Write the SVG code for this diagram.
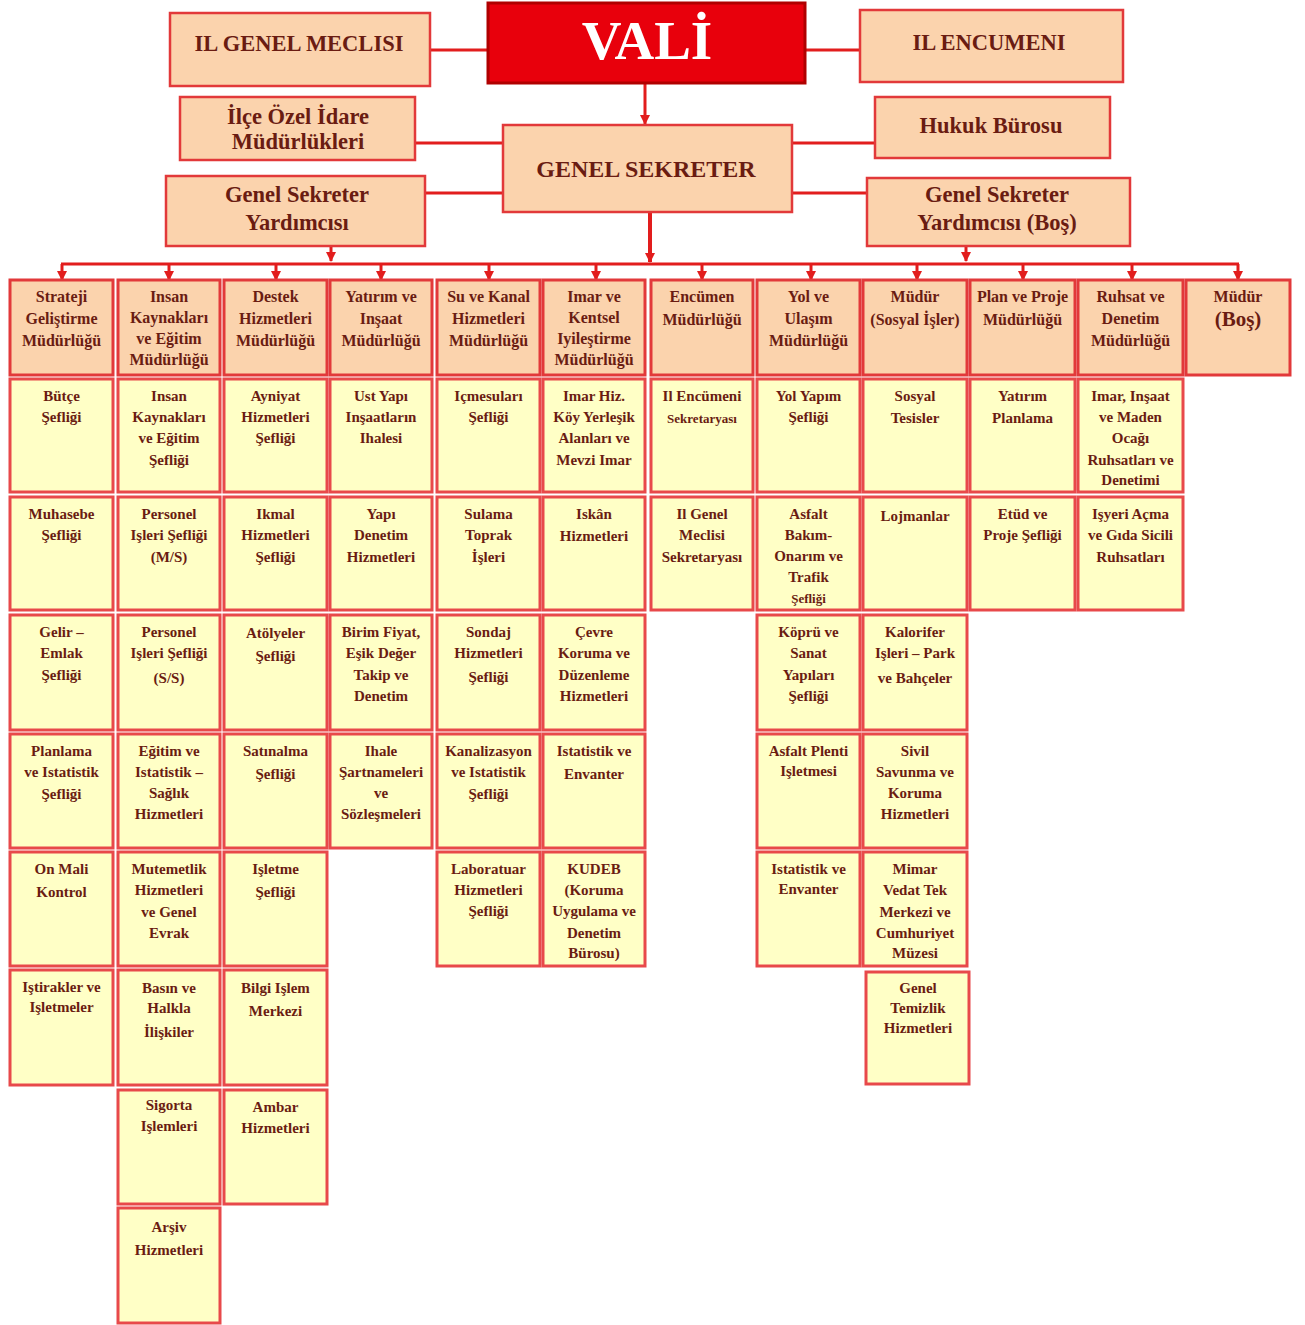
<svg xmlns="http://www.w3.org/2000/svg" width="1305" height="1325" viewBox="0 0 1305 1325">
<style>
text{font-family:"Liberation Serif","Times New Roman",serif;font-weight:bold;fill:#6a1c12;text-anchor:middle}
.top rect{fill:#fbd3ad;stroke:#e2393a;stroke-width:2.5}
.hd rect{fill:#fbd3ad;stroke:#e2393a;stroke-width:3}
.sb rect{fill:#ffffc6;stroke:#e8494a;stroke-width:3}
.hd text{font-size:16px}
.sb text{font-size:15px}
.big{font-size:22.5px}
.con line{stroke:#e21d1d;stroke-width:3;fill:none}
</style>
<defs>
<marker id="ar" markerWidth="10" markerHeight="10" refX="9" refY="5" orient="auto" markerUnits="userSpaceOnUse">
<path d="M0,0 L10,5 L0,10 z" fill="#e21d1d"/>
</marker>
</defs>
<rect width="1305" height="1325" fill="#ffffff"/>

<g class="con" id="connectors">
<line x1="430" y1="50" x2="488" y2="50"/>
<line x1="805" y1="50" x2="860" y2="50"/>
<line x1="645" y1="83" x2="645" y2="124" marker-end="url(#ar)"/>
<line x1="415" y1="143" x2="503" y2="143"/>
<line x1="792" y1="143" x2="875" y2="143"/>
<line x1="425" y1="193" x2="503" y2="193"/>
<line x1="792" y1="193" x2="867" y2="193"/>
<line x1="650" y1="212" x2="650" y2="262" style="stroke-width:4" marker-end="url(#ar)"/>
<line x1="331" y1="246" x2="331" y2="261" marker-end="url(#ar)"/>
<line x1="966" y1="246" x2="966" y2="261" marker-end="url(#ar)"/>
<line x1="61" y1="264" x2="1239" y2="264"/>
<line x1="62" y1="264" x2="62" y2="280" marker-end="url(#ar)"/>
<line x1="169" y1="264" x2="169" y2="280" marker-end="url(#ar)"/>
<line x1="276" y1="264" x2="276" y2="280" marker-end="url(#ar)"/>
<line x1="381" y1="264" x2="381" y2="280" marker-end="url(#ar)"/>
<line x1="489" y1="264" x2="489" y2="280" marker-end="url(#ar)"/>
<line x1="596" y1="264" x2="596" y2="280" marker-end="url(#ar)"/>
<line x1="702" y1="264" x2="702" y2="280" marker-end="url(#ar)"/>
<line x1="811" y1="264" x2="811" y2="280" marker-end="url(#ar)"/>
<line x1="917" y1="264" x2="917" y2="280" marker-end="url(#ar)"/>
<line x1="1023" y1="264" x2="1023" y2="280" marker-end="url(#ar)"/>
<line x1="1132" y1="264" x2="1132" y2="280" marker-end="url(#ar)"/>
<line x1="1238" y1="264" x2="1238" y2="280" marker-end="url(#ar)"/>
</g>

<!-- top -->
<g id="vali"><rect x="488" y="3" width="317" height="80" fill="#e8000c" stroke="#b00000" stroke-width="3"/><text x="647" y="59" style="font-size:55px;fill:#ffffff">VALİ</text></g>
<g class="top" id="il-genel-meclisi"><rect x="170" y="13" width="260" height="73"/><text class="big" x="299" y="51">IL GENEL MECLISI</text></g>
<g class="top" id="il-encumeni"><rect x="860" y="10" width="263" height="72"/><text class="big" x="989" y="50">IL ENCUMENI</text></g>
<g class="top" id="ilce"><rect x="180" y="97" width="235" height="63"/><text class="big" x="298" y="124">İlçe Özel İdare</text><text class="big" x="298" y="149">Müdürlükleri</text></g>
<g class="top" id="hukuk"><rect x="875" y="97" width="235" height="61"/><text class="big" x="991" y="133">Hukuk Bürosu</text></g>
<g class="top" id="genel-sekreter"><rect x="503" y="125" width="289" height="87"/><text x="646" y="177" style="font-size:24px">GENEL SEKRETER</text></g>
<g class="top" id="gsy"><rect x="166" y="176" width="259" height="70"/><text class="big" x="297" y="202">Genel Sekreter</text><text class="big" x="297" y="230">Yardımcısı</text></g>
<g class="top" id="gsy-bos"><rect x="867" y="178" width="263" height="68"/><text class="big" x="997" y="202">Genel Sekreter</text><text class="big" x="997" y="230">Yardımcısı (Boş)</text></g>

<!-- headers -->
<g class="hd" id="h1"><rect x="10" y="280" width="103" height="95"/><text x="61.5" y="302">Strateji</text><text x="61.5" y="324">Geliştirme</text><text x="61.5" y="346">Müdürlüğü</text></g>
<g class="hd" id="h2"><rect x="118" y="280" width="102" height="95"/><text x="169" y="302">Insan</text><text x="169" y="323">Kaynakları</text><text x="169" y="344">ve Eğitim</text><text x="169" y="365">Müdürlüğü</text></g>
<g class="hd" id="h3"><rect x="224" y="280" width="103" height="95"/><text x="275.5" y="302">Destek</text><text x="275.5" y="324">Hizmetleri</text><text x="275.5" y="346">Müdürlüğü</text></g>
<g class="hd" id="h4"><rect x="330" y="280" width="102" height="95"/><text x="381" y="302">Yatırım ve</text><text x="381" y="324">Inşaat</text><text x="381" y="346">Müdürlüğü</text></g>
<g class="hd" id="h5"><rect x="437" y="280" width="103" height="95"/><text x="488.5" y="302">Su ve Kanal</text><text x="488.5" y="324">Hizmetleri</text><text x="488.5" y="346">Müdürlüğü</text></g>
<g class="hd" id="h6"><rect x="543" y="280" width="102" height="95"/><text x="594" y="302">Imar ve</text><text x="594" y="323">Kentsel</text><text x="594" y="344">Iyileştirme</text><text x="594" y="365">Müdürlüğü</text></g>
<g class="hd" id="h7"><rect x="651" y="280" width="102" height="95"/><text x="702" y="302">Encümen</text><text x="702" y="325">Müdürlüğü</text></g>
<g class="hd" id="h8"><rect x="757" y="280" width="103" height="95"/><text x="808.5" y="302">Yol ve</text><text x="808.5" y="324">Ulaşım</text><text x="808.5" y="346">Müdürlüğü</text></g>
<g class="hd" id="h9"><rect x="863" y="280" width="104" height="95"/><text x="915" y="302">Müdür</text><text x="915" y="325">(Sosyal İşler)</text></g>
<g class="hd" id="h10"><rect x="970" y="280" width="105" height="95"/><text x="1022.5" y="302">Plan ve Proje</text><text x="1022.5" y="325">Müdürlüğü</text></g>
<g class="hd" id="h11"><rect x="1078" y="280" width="105" height="95"/><text x="1130.5" y="302">Ruhsat ve</text><text x="1130.5" y="324">Denetim</text><text x="1130.5" y="346">Müdürlüğü</text></g>
<g class="hd" id="h12"><rect x="1186" y="280" width="104" height="95"/><text x="1238" y="302">Müdür</text><text x="1238" y="326" style="font-size:21px">(Boş)</text></g>

<!-- column 1 -->
<g class="sb" id="c1r1"><rect x="10" y="379" width="103" height="113"/><text x="61.5" y="401">Bütçe</text><text x="61.5" y="422">Şefliği</text></g>
<g class="sb" id="c1r2"><rect x="10" y="497" width="103" height="113"/><text x="61.5" y="519">Muhasebe</text><text x="61.5" y="540">Şefliği</text></g>
<g class="sb" id="c1r3"><rect x="10" y="615" width="103" height="115"/><text x="61.5" y="637">Gelir –</text><text x="61.5" y="658">Emlak</text><text x="61.5" y="680">Şefliği</text></g>
<g class="sb" id="c1r4"><rect x="10" y="734" width="103" height="114"/><text x="61.5" y="756">Planlama</text><text x="61.5" y="777">ve Istatistik</text><text x="61.5" y="799">Şefliği</text></g>
<g class="sb" id="c1r5"><rect x="10" y="852" width="103" height="114"/><text x="61.5" y="874">On Mali</text><text x="61.5" y="897">Kontrol</text></g>
<g class="sb" id="c1r6"><rect x="10" y="970" width="103" height="115"/><text x="61.5" y="992">Iştirakler ve</text><text x="61.5" y="1012">Işletmeler</text></g>

<!-- column 2 -->
<g class="sb" id="c2r1"><rect x="118" y="379" width="102" height="113"/><text x="169" y="401">Insan</text><text x="169" y="422">Kaynakları</text><text x="169" y="443">ve Eğitim</text><text x="169" y="465">Şefliği</text></g>
<g class="sb" id="c2r2"><rect x="118" y="497" width="102" height="113"/><text x="169" y="519">Personel</text><text x="169" y="540">Işleri Şefliği</text><text x="169" y="562">(M/S)</text></g>
<g class="sb" id="c2r3"><rect x="118" y="615" width="102" height="115"/><text x="169" y="637">Personel</text><text x="169" y="658">Işleri Şefliği</text><text x="169" y="683">(S/S)</text></g>
<g class="sb" id="c2r4"><rect x="118" y="734" width="102" height="114"/><text x="169" y="756">Eğitim ve</text><text x="169" y="777">Istatistik –</text><text x="169" y="798">Sağlık</text><text x="169" y="819">Hizmetleri</text></g>
<g class="sb" id="c2r5"><rect x="118" y="852" width="102" height="114"/><text x="169" y="874">Mutemetlik</text><text x="169" y="895">Hizmetleri</text><text x="169" y="917">ve Genel</text><text x="169" y="938">Evrak</text></g>
<g class="sb" id="c2r6"><rect x="118" y="970" width="102" height="115"/><text x="169" y="993">Basın ve</text><text x="169" y="1013">Halkla</text><text x="169" y="1037">İlişkiler</text></g>
<g class="sb" id="c2r7"><rect x="118" y="1090" width="102" height="114"/><text x="169" y="1110">Sigorta</text><text x="169" y="1131">Işlemleri</text></g>
<g class="sb" id="c2r8"><rect x="118" y="1208" width="102" height="115"/><text x="169" y="1232">Arşiv</text><text x="169" y="1255">Hizmetleri</text></g>

<!-- column 3 -->
<g class="sb" id="c3r1"><rect x="224" y="379" width="103" height="113"/><text x="275.5" y="401">Ayniyat</text><text x="275.5" y="422">Hizmetleri</text><text x="275.5" y="443">Şefliği</text></g>
<g class="sb" id="c3r2"><rect x="224" y="497" width="103" height="113"/><text x="275.5" y="519">Ikmal</text><text x="275.5" y="540">Hizmetleri</text><text x="275.5" y="562">Şefliği</text></g>
<g class="sb" id="c3r3"><rect x="224" y="615" width="103" height="115"/><text x="275.5" y="638">Atölyeler</text><text x="275.5" y="661">Şefliği</text></g>
<g class="sb" id="c3r4"><rect x="224" y="734" width="103" height="114"/><text x="275.5" y="756">Satınalma</text><text x="275.5" y="779">Şefliği</text></g>
<g class="sb" id="c3r5"><rect x="224" y="852" width="103" height="114"/><text x="275.5" y="874">Işletme</text><text x="275.5" y="897">Şefliği</text></g>
<g class="sb" id="c3r6"><rect x="224" y="970" width="103" height="115"/><text x="275.5" y="993">Bilgi Işlem</text><text x="275.5" y="1016">Merkezi</text></g>
<g class="sb" id="c3r7"><rect x="224" y="1090" width="103" height="114"/><text x="275.5" y="1112">Ambar</text><text x="275.5" y="1133">Hizmetleri</text></g>

<!-- column 4 -->
<g class="sb" id="c4r1"><rect x="330" y="379" width="102" height="113"/><text x="381" y="401">Ust Yapı</text><text x="381" y="422">Inşaatların</text><text x="381" y="443">Ihalesi</text></g>
<g class="sb" id="c4r2"><rect x="330" y="497" width="102" height="113"/><text x="381" y="519">Yapı</text><text x="381" y="540">Denetim</text><text x="381" y="562">Hizmetleri</text></g>
<g class="sb" id="c4r3"><rect x="330" y="615" width="102" height="115"/><text x="381" y="637">Birim Fiyat,</text><text x="381" y="658">Eşik Değer</text><text x="381" y="680">Takip ve</text><text x="381" y="701">Denetim</text></g>
<g class="sb" id="c4r4"><rect x="330" y="734" width="102" height="114"/><text x="381" y="756">Ihale</text><text x="381" y="777">Şartnameleri</text><text x="381" y="798">ve</text><text x="381" y="819">Sözleşmeleri</text></g>

<!-- column 5 -->
<g class="sb" id="c5r1"><rect x="437" y="379" width="103" height="113"/><text x="488.5" y="401">Içmesuları</text><text x="488.5" y="422">Şefliği</text></g>
<g class="sb" id="c5r2"><rect x="437" y="497" width="103" height="113"/><text x="488.5" y="519">Sulama</text><text x="488.5" y="540">Toprak</text><text x="488.5" y="562">İşleri</text></g>
<g class="sb" id="c5r3"><rect x="437" y="615" width="103" height="115"/><text x="488.5" y="637">Sondaj</text><text x="488.5" y="658">Hizmetleri</text><text x="488.5" y="682">Şefliği</text></g>
<g class="sb" id="c5r4"><rect x="437" y="734" width="103" height="114"/><text x="488.5" y="756">Kanalizasyon</text><text x="488.5" y="777">ve Istatistik</text><text x="488.5" y="799">Şefliği</text></g>
<g class="sb" id="c5r5"><rect x="437" y="852" width="103" height="114"/><text x="488.5" y="874">Laboratuar</text><text x="488.5" y="895">Hizmetleri</text><text x="488.5" y="916">Şefliği</text></g>

<!-- column 6 -->
<g class="sb" id="c6r1"><rect x="543" y="379" width="102" height="113"/><text x="594" y="401">Imar Hiz.</text><text x="594" y="422">Köy Yerleşik</text><text x="594" y="443">Alanları ve</text><text x="594" y="465">Mevzi Imar</text></g>
<g class="sb" id="c6r2"><rect x="543" y="497" width="102" height="113"/><text x="594" y="519">Iskân</text><text x="594" y="541">Hizmetleri</text></g>
<g class="sb" id="c6r3"><rect x="543" y="615" width="102" height="115"/><text x="594" y="637">Çevre</text><text x="594" y="658">Koruma ve</text><text x="594" y="680">Düzenleme</text><text x="594" y="701">Hizmetleri</text></g>
<g class="sb" id="c6r4"><rect x="543" y="734" width="102" height="114"/><text x="594" y="756">Istatistik ve</text><text x="594" y="779">Envanter</text></g>
<g class="sb" id="c6r5"><rect x="543" y="852" width="102" height="114"/><text x="594" y="874">KUDEB</text><text x="594" y="895">(Koruma</text><text x="594" y="916">Uygulama ve</text><text x="594" y="938">Denetim</text><text x="594" y="958">Bürosu)</text></g>

<!-- column 7 -->
<g class="sb" id="c7r1"><rect x="651" y="379" width="102" height="113"/><text x="702" y="401">Il Encümeni</text><text x="702" y="423" style="font-size:13px">Sekretaryası</text></g>
<g class="sb" id="c7r2"><rect x="651" y="497" width="102" height="113"/><text x="702" y="519">Il Genel</text><text x="702" y="540">Meclisi</text><text x="702" y="562">Sekretaryası</text></g>

<!-- column 8 -->
<g class="sb" id="c8r1"><rect x="757" y="379" width="103" height="113"/><text x="808.5" y="401">Yol Yapım</text><text x="808.5" y="422">Şefliği</text></g>
<g class="sb" id="c8r2"><rect x="757" y="497" width="103" height="113"/><text x="808.5" y="519">Asfalt</text><text x="808.5" y="540">Bakım-</text><text x="808.5" y="561">Onarım ve</text><text x="808.5" y="582">Trafik</text><text x="808.5" y="603" style="font-size:13px">Şefliği</text></g>
<g class="sb" id="c8r3"><rect x="757" y="615" width="103" height="115"/><text x="808.5" y="637">Köprü ve</text><text x="808.5" y="658">Sanat</text><text x="808.5" y="680">Yapıları</text><text x="808.5" y="701">Şefliği</text></g>
<g class="sb" id="c8r4"><rect x="757" y="734" width="103" height="114"/><text x="808.5" y="756">Asfalt Plenti</text><text x="808.5" y="776">Işletmesi</text></g>
<g class="sb" id="c8r5"><rect x="757" y="852" width="103" height="114"/><text x="808.5" y="874">Istatistik ve</text><text x="808.5" y="894">Envanter</text></g>

<!-- column 9 -->
<g class="sb" id="c9r1"><rect x="863" y="379" width="104" height="113"/><text x="915" y="401">Sosyal</text><text x="915" y="423">Tesisler</text></g>
<g class="sb" id="c9r2"><rect x="863" y="497" width="104" height="113"/><text x="915" y="521">Lojmanlar</text></g>
<g class="sb" id="c9r3"><rect x="863" y="615" width="104" height="115"/><text x="915" y="637">Kalorifer</text><text x="915" y="658">Işleri – Park</text><text x="915" y="683">ve Bahçeler</text></g>
<g class="sb" id="c9r4"><rect x="863" y="734" width="104" height="114"/><text x="915" y="756">Sivil</text><text x="915" y="777">Savunma ve</text><text x="915" y="798">Koruma</text><text x="915" y="819">Hizmetleri</text></g>
<g class="sb" id="c9r5"><rect x="863" y="852" width="104" height="114"/><text x="915" y="874">Mimar</text><text x="915" y="895">Vedat Tek</text><text x="915" y="917">Merkezi ve</text><text x="915" y="938">Cumhuriyet</text><text x="915" y="958">Müzesi</text></g>
<g class="sb" id="c9r6"><rect x="866" y="972" width="103" height="112"/><text x="918" y="993">Genel</text><text x="918" y="1013">Temizlik</text><text x="918" y="1033">Hizmetleri</text></g>

<!-- column 10 -->
<g class="sb" id="c10r1"><rect x="970" y="379" width="105" height="113"/><text x="1022.5" y="401">Yatırım</text><text x="1022.5" y="423">Planlama</text></g>
<g class="sb" id="c10r2"><rect x="970" y="497" width="105" height="113"/><text x="1022.5" y="519">Etüd ve</text><text x="1022.5" y="540">Proje Şefliği</text></g>

<!-- column 11 -->
<g class="sb" id="c11r1"><rect x="1078" y="379" width="105" height="113"/><text x="1130.5" y="401">Imar, Inşaat</text><text x="1130.5" y="422">ve Maden</text><text x="1130.5" y="443">Ocağı</text><text x="1130.5" y="465">Ruhsatları ve</text><text x="1130.5" y="485">Denetimi</text></g>
<g class="sb" id="c11r2"><rect x="1078" y="497" width="105" height="113"/><text x="1130.5" y="519">Işyeri Açma</text><text x="1130.5" y="540">ve Gıda Sicili</text><text x="1130.5" y="562">Ruhsatları</text></g>
</svg>
